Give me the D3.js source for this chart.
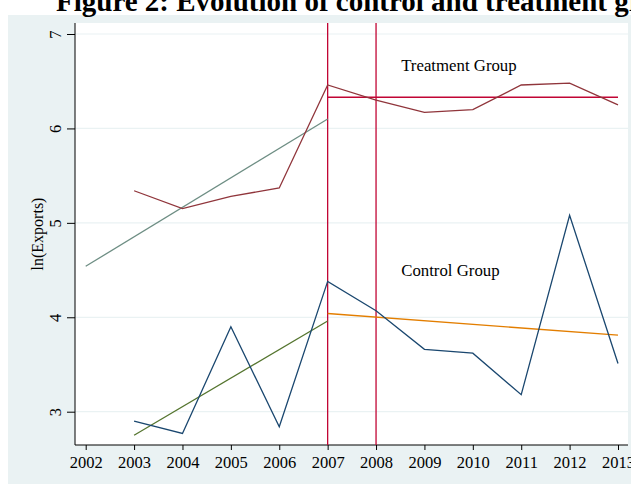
<!DOCTYPE html>
<html>
<head>
<meta charset="utf-8">
<script src="https://cdn.jsdelivr.net/npm/d3@7"></script>
<style>
  body { margin: 0; background: #ffffff; }
  svg { display: block; }
  text { font-family: "Liberation Serif", "Times New Roman", serif; }
</style>
</head>
<body>
<svg id="chart" width="631" height="484"></svg>
<script>
// ---- data ----
const years = [2003, 2004, 2005, 2006, 2007, 2008, 2009, 2010, 2011, 2012, 2013];
const treatment = [5.34, 5.15, 5.28, 5.37, 6.46, 6.30, 6.17, 6.20, 6.46, 6.48, 6.25];
const control = [2.90, 2.77, 3.90, 2.84, 4.38, 4.07, 3.66, 3.62, 3.18, 5.08, 3.51];
// fitted trend segments: [startYear, startValue, endYear, endValue]
const treatPreFit = [2002, 4.54, 2007, 6.10];
const treatPostFit = [2007, 6.33, 2013, 6.33];
const controlPreFit = [2003, 2.75, 2007, 3.96];
const controlPostFit = [2007, 4.04, 2013, 3.81];
const eventYears = [2007, 2008];
const xTicks = [2002, 2003, 2004, 2005, 2006, 2007, 2008, 2009, 2010, 2011, 2012, 2013];
const yTicks = [3, 4, 5, 6, 7];
const titleText = "Figure 2: Evolution of control and treatment groups";
const yLabel = "ln(Exports)";
const groupLabels = [
  { text: "Treatment Group", year: 2008.52, value: 6.613 },
  { text: "Control Group", year: 2008.52, value: 4.432 }
];

// ---- layout ----
const svg = d3.select("#chart");
const W = 631, H = 484;
const plot = { left: 75, right: 628, top: 23, bottom: 445 };

const x = d3.scaleLinear().domain([2002, 2013]).range([85.7, 618]);
const y = d3.scaleLinear().domain([3, 7]).range([411.7, 34]);

// outer band
svg.append("rect").attr("x", 0).attr("y", 0).attr("width", W).attr("height", H).attr("fill", "#ffffff");
svg.append("rect").attr("x", 8).attr("y", 15).attr("width", W - 8).attr("height", H - 15).attr("fill", "#eaf2f3");

// title (clipped at top)
svg.append("text")
  .attr("x", 56).attr("y", 11)
  .attr("font-size", 29).attr("font-weight", "bold")
  .attr("fill", "#000")
  .text(titleText);

// plot region
svg.append("rect")
  .attr("x", plot.left).attr("y", plot.top)
  .attr("width", plot.right - plot.left).attr("height", plot.bottom - plot.top)
  .attr("fill", "#ffffff");

// gridlines
svg.append("g").selectAll("line").data(yTicks).join("line")
  .attr("x1", plot.left).attr("x2", plot.right)
  .attr("y1", d => y(d)).attr("y2", d => y(d))
  .attr("stroke", "#eaf2f3").attr("stroke-width", 1.2);

// axes
const yAxis = d3.axisLeft(y).tickValues(yTicks).tickSize(8).tickPadding(6).tickFormat(d3.format("d"));
const gy = svg.append("g").attr("transform", `translate(${plot.left},0)`).call(yAxis);
gy.select(".domain").remove();
gy.append("line").attr("x1", 0).attr("x2", 0).attr("y1", plot.top).attr("y2", plot.bottom)
  .attr("stroke", "#000").attr("stroke-width", 1);
gy.selectAll(".tick line").attr("stroke", "#000");
gy.selectAll(".tick text")
  .attr("font-size", 16.5).attr("fill", "#000")
  .attr("text-anchor", "middle")
  .attr("x", null).attr("dy", null)
  .attr("transform", "translate(-14,0) rotate(-90)")
  .attr("font-family", "Liberation Serif, serif");

const xAxis = d3.axisBottom(x).tickValues(xTicks).tickSize(5).tickPadding(6).tickFormat(d3.format("d"));
const gx = svg.append("g").attr("transform", `translate(0,${plot.bottom})`).call(xAxis);
gx.select(".domain").remove();
gx.append("line").attr("x1", plot.left).attr("x2", plot.right).attr("y1", 0).attr("y2", 0)
  .attr("stroke", "#000").attr("stroke-width", 1);
gx.selectAll(".tick line").attr("stroke", "#000");
gx.selectAll(".tick text").attr("font-size", 16.5).attr("fill", "#000")
  .attr("font-family", "Liberation Serif, serif");

// y label
svg.append("text")
  .attr("transform", `translate(43,234) rotate(-90)`)
  .attr("text-anchor", "middle")
  .attr("font-size", 16).attr("fill", "#000")
  .text(yLabel);

// event lines
svg.append("g").selectAll("line").data(eventYears).join("line")
  .attr("x1", d => x(d)).attr("x2", d => x(d))
  .attr("y1", plot.top).attr("y2", plot.bottom)
  .attr("stroke", "#c10534").attr("stroke-width", 1.3);

const line = d3.line().x(d => x(d[0])).y(d => y(d[1]));
function seg(s) { return [[s[0], s[1]], [s[2], s[3]]]; }

const g = svg.append("g").attr("fill", "none").attr("stroke-width", 1.3);
g.append("path").attr("d", line(seg(treatPreFit))).attr("stroke", "#6e8e84");
g.append("path").attr("d", line(seg(controlPreFit))).attr("stroke", "#55752f");
g.append("path").attr("d", line(seg(treatPostFit))).attr("stroke", "#c10534");
g.append("path").attr("d", line(seg(controlPostFit))).attr("stroke", "#e37e00");
g.append("path").attr("d", line(years.map((yr, i) => [yr, treatment[i]]))).attr("stroke", "#90353b");
g.append("path").attr("d", line(years.map((yr, i) => [yr, control[i]]))).attr("stroke", "#1a476f");

// group labels
svg.append("g").selectAll("text").data(groupLabels).join("text")
  .attr("x", d => x(d.year)).attr("y", d => y(d.value))
  .attr("font-size", 16.8).attr("fill", "#000")
  .text(d => d.text);
</script>
</body>
</html>
